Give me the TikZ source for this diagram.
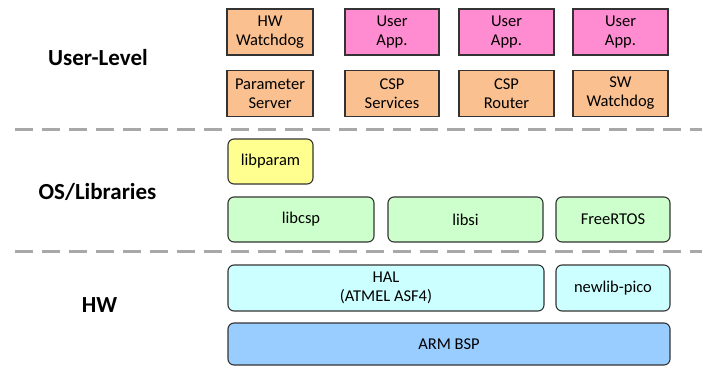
\documentclass[tikz,border=0pt]{standalone}
\usepackage{fontspec}
\setmainfont{Carlito}
\usepackage{tikz}
\definecolor{Peach}{HTML}{FAC090}
\definecolor{Pink}{HTML}{FF8BD0}
\definecolor{Lemon}{HTML}{FFFF8F}
\definecolor{Mint}{HTML}{CCFFCC}
\definecolor{Ice}{HTML}{CCFFFF}
\definecolor{Sky}{HTML}{99CCFF}
\definecolor{Rule}{HTML}{A8A8A8}

\begin{document}
\begin{tikzpicture}[x=1pt,y=-1pt,
    blk/.style={draw=black!80,line width=1.1pt,align=center,inner sep=0pt,
      font=\fontsize{16.5}{19}\selectfont},
    sq/.style={blk,minimum height=46pt},
    rd/.style={blk,rounded corners=6pt,minimum height=45pt},
    layer/.style={font=\fontsize{23}{23}\selectfont\bfseries},
    sep/.style={Rule,line width=3pt,dash pattern=on 18pt off 9pt}]
    \useasboundingbox (0,0) rectangle (702,365);
    % layer separators
    \coordinate (s1a) at (15,129);  \coordinate (s1b) at (702,129);
    \coordinate (s2a) at (15,251);  \coordinate (s2b) at (702,251);
    \draw[sep] (s1a) -- (s1b);
    \draw[sep] (s2a) -- (s2b);
    % layer names
    \node[layer] (user) at (98,58) {User-Level};
    \node[layer] (os) at (97.5,192) {OS/Libraries};
    \node[layer] (hw) at (99.5,305) {HW};
    % user level
    \node[sq,fill=Peach,minimum width=86pt] (hwwd) at (270,32) {HW\\Watchdog};
    \node[sq,fill=Pink,minimum width=94pt] (app1) at (392,32) {User\\App.};
    \node[sq,fill=Pink,minimum width=95pt] (app2) at (506.5,32) {User\\App.};
    \node[sq,fill=Pink,minimum width=95pt] (app3) at (620.5,32) {User\\App.};
    \node[sq,fill=Peach,minimum width=86pt] (param) at (270,93.5) {Parameter\\Server};
    \node[sq,fill=Peach,minimum width=94pt] (csps) at (392,93.5) {CSP\\Services};
    \node[sq,fill=Peach,minimum width=95pt] (cspr) at (506.5,93.5) {CSP\\Router};
    \node[sq,fill=Peach,minimum width=95pt] (swwd) at (620.5,93.5) {SW\\Watchdog};
    % os / libraries
    \node[rd,fill=Lemon,minimum width=85pt] (libparam) at (270.5,161.5) {libparam};
    \node[rd,fill=Mint,minimum width=146pt] (libcsp) at (301,219.5) {libcsp};
    \node[rd,fill=Mint,minimum width=155pt] (libsi) at (465.5,219.5) {libsi};
    \node[rd,fill=Mint,minimum width=114pt] (rtos) at (613,219.5) {FreeRTOS};
    % hardware
    \node[rd,fill=Ice,minimum width=316pt,minimum height=46pt] (hal) at (386,288) {HAL\\(ATMEL ASF4)};
    \node[rd,fill=Ice,minimum width=114pt,minimum height=46pt] (newlib) at (613,288) {newlib-pico};
    \node[rd,fill=Sky,minimum width=442pt,minimum height=42pt] (bsp) at (449,344) {ARM BSP};
\end{tikzpicture}
\end{document}
